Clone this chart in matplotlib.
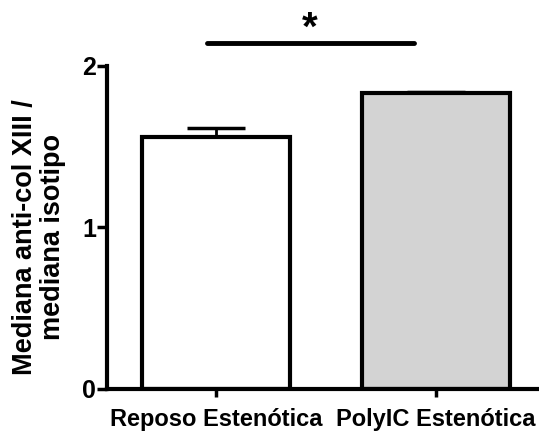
import matplotlib
matplotlib.use("Agg")
import matplotlib.pyplot as plt

categories = ["Reposo Estenótica", "PolyIC Estenótica"]
values = [1.558, 1.83]
errors = [0.06, 0.01]
colors = ["white", "#d3d3d3"]
yticks = [0, 1, 2]
ylabel = "Mediana anti-col XIII /\nmediana isotipo"

plt.rcParams['font.family'] = ['Liberation Sans', 'DejaVu Sans']
fig = plt.figure(figsize=(5.39, 4.34), dpi=100)
ax = fig.add_axes([0.1985, 0.1037, 0.8015, 0.7443])

x = list(range(len(categories)))
ax.bar(x, values, width=0.67, color=colors, edgecolor='black', linewidth=3, zorder=2)
ax.errorbar(x, values, yerr=[[0]*len(errors), errors], fmt='none', ecolor='black',
            elinewidth=2, capsize=21, capthick=2.5, zorder=1)

ax.set_xlim(-0.495, 1.468)
ax.set_ylim(0, 2)
ax.set_yticks(yticks)
ax.set_yticklabels([str(t) for t in yticks], fontsize=18, fontweight='bold')
ax.set_xticks(x)
ax.set_xticklabels(categories, fontsize=17, fontweight='bold')
ax.tick_params(axis='y', length=7, width=2.5, pad=1)
ax.tick_params(axis='x', length=6, width=2.5, pad=8)
for s in ['top', 'right']:
    ax.spines[s].set_visible(False)
for s in ['left', 'bottom']:
    ax.spines[s].set_linewidth(3)
ax.set_ylabel(ylabel, fontsize=19.5, fontweight='bold', linespacing=1.1)
ax.yaxis.set_label_coords(-0.095, 0.47)

# significance bar
ax.plot([-0.04, 0.9], [2.14, 2.14], color='black', lw=3.5, clip_on=False, solid_capstyle='round')
ax.text(0.425, 2.23, "*", ha='center', va='center', fontsize=29, fontweight='bold', clip_on=False)

fig.savefig("out.png", dpi=100)
